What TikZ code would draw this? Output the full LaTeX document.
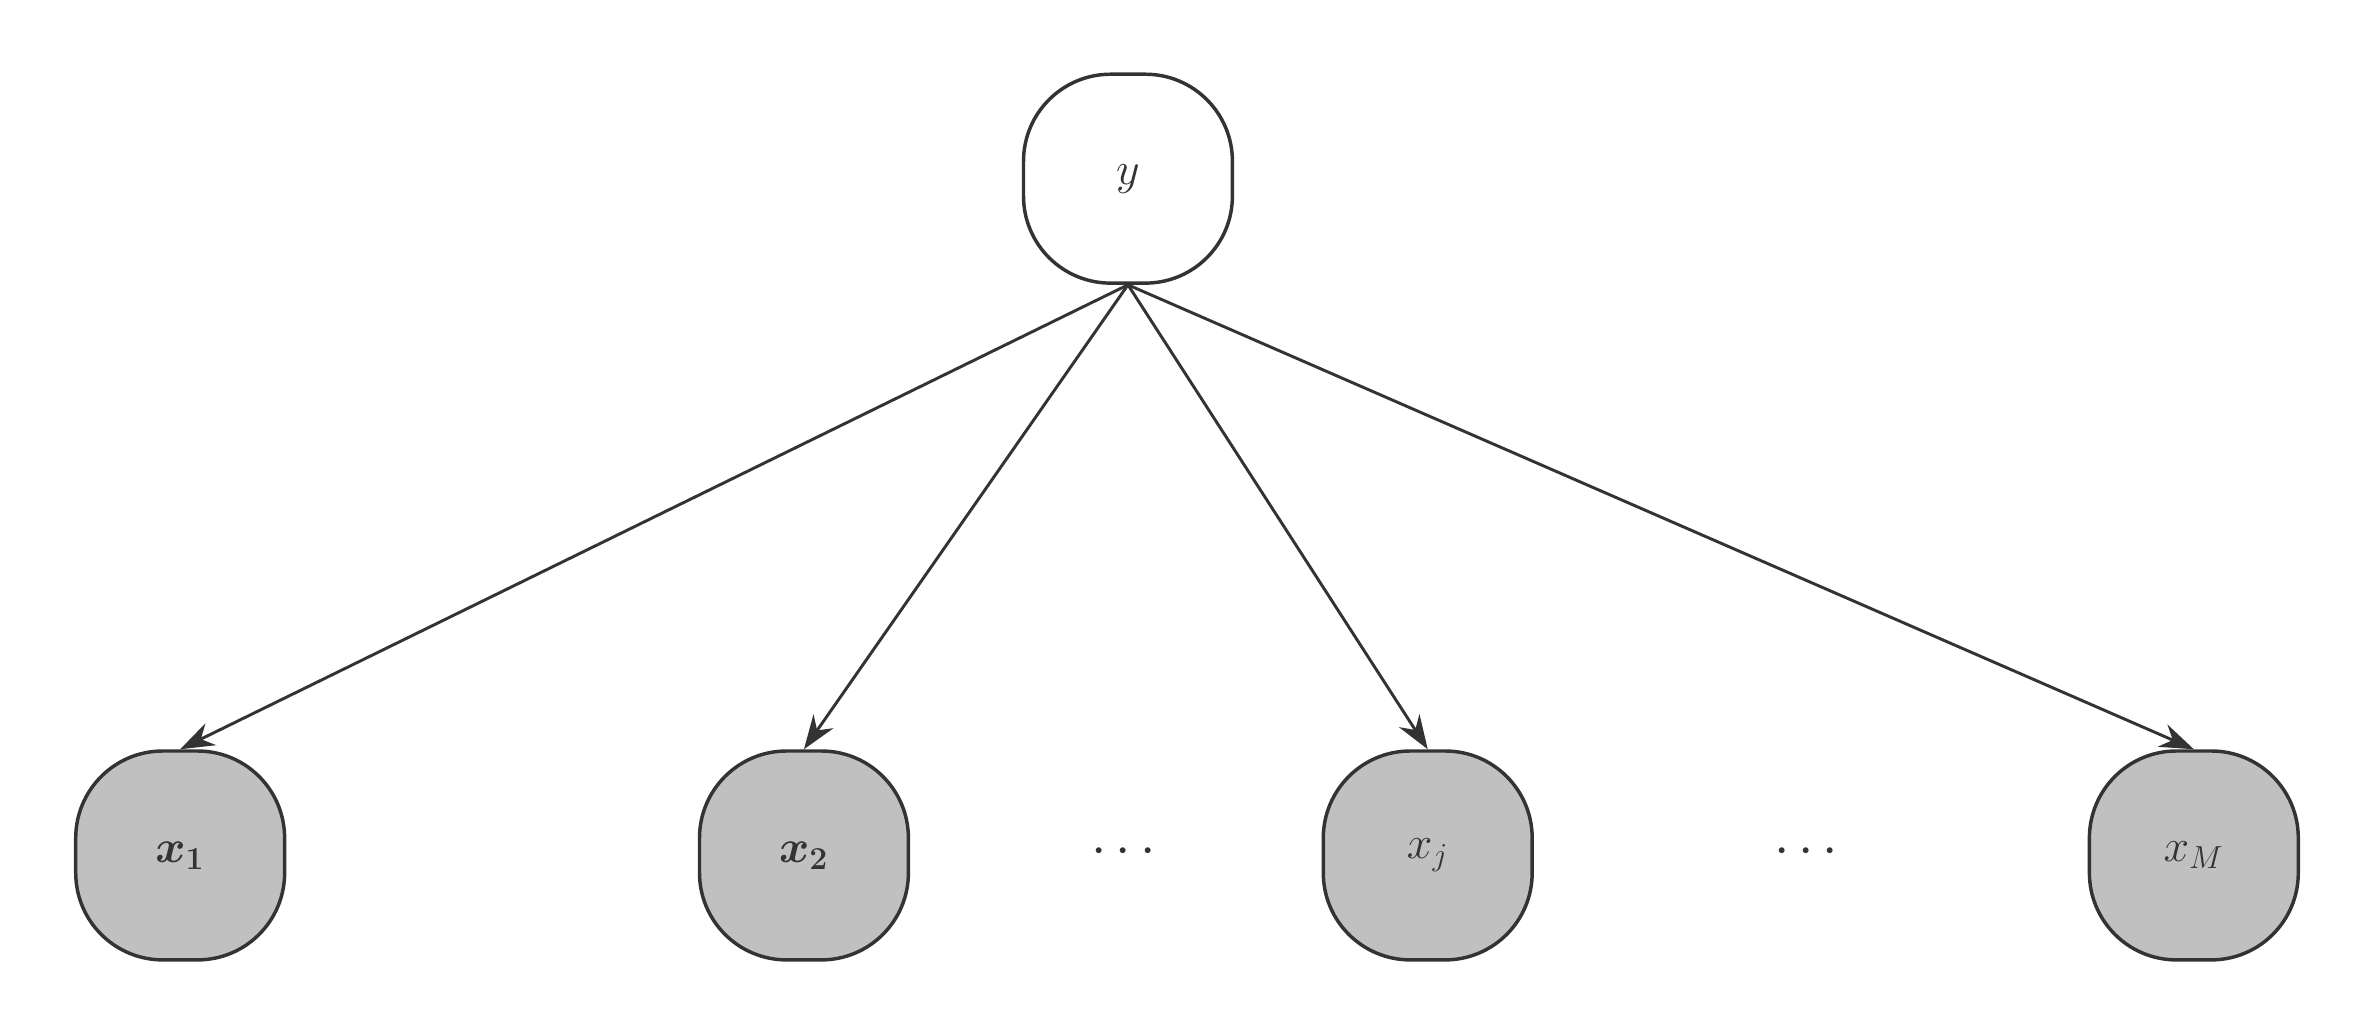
\documentclass[tikz,border=0pt]{standalone}
\usepackage{amsmath,bm}
\usetikzlibrary{arrows.meta}
\definecolor{ln}{HTML}{333333}
\definecolor{obs}{HTML}{C0C0C0}
\begin{document}
\begin{tikzpicture}[x=0.02cm,y=-0.02cm,
  var/.style={draw=ln,line width=1.3pt,minimum width=2.76cm,minimum height=2.76cm,rounded corners=1.15cm,inner sep=0pt,font=\fontsize{18}{22}\selectfont,text=ln},
  obsv/.style={var,fill=obs},
  edge/.style={draw=ln,line width=1.1pt,-{Stealth[length=0.45cm,width=0.32cm]}}]
\useasboundingbox (0,0) rectangle (1568,684);
\node[var] (y) at (745,118) {$y$};
\node[obsv] (x1) at (119,565) {$\bm{x}_{\mathbf{1}}$};
\node[obsv] (x2) at (531,565) {$\bm{x}_{\mathbf{2}}$};
\node[obsv] (xj) at (943,565) {$x_j$};
\node[obsv] (xM) at (1449,565) {$x_M$};
\node[text=ln,font=\fontsize{22}{24}\selectfont] (d1) at (745,563) {$\cdots$};
\node[text=ln,font=\fontsize{22}{24}\selectfont] (d2) at (1196,563) {$\cdots$};
\foreach \t in {x1,x2,xj,xM} \draw[edge] (y.south) -- (\t.north);
\end{tikzpicture}
\end{document}
